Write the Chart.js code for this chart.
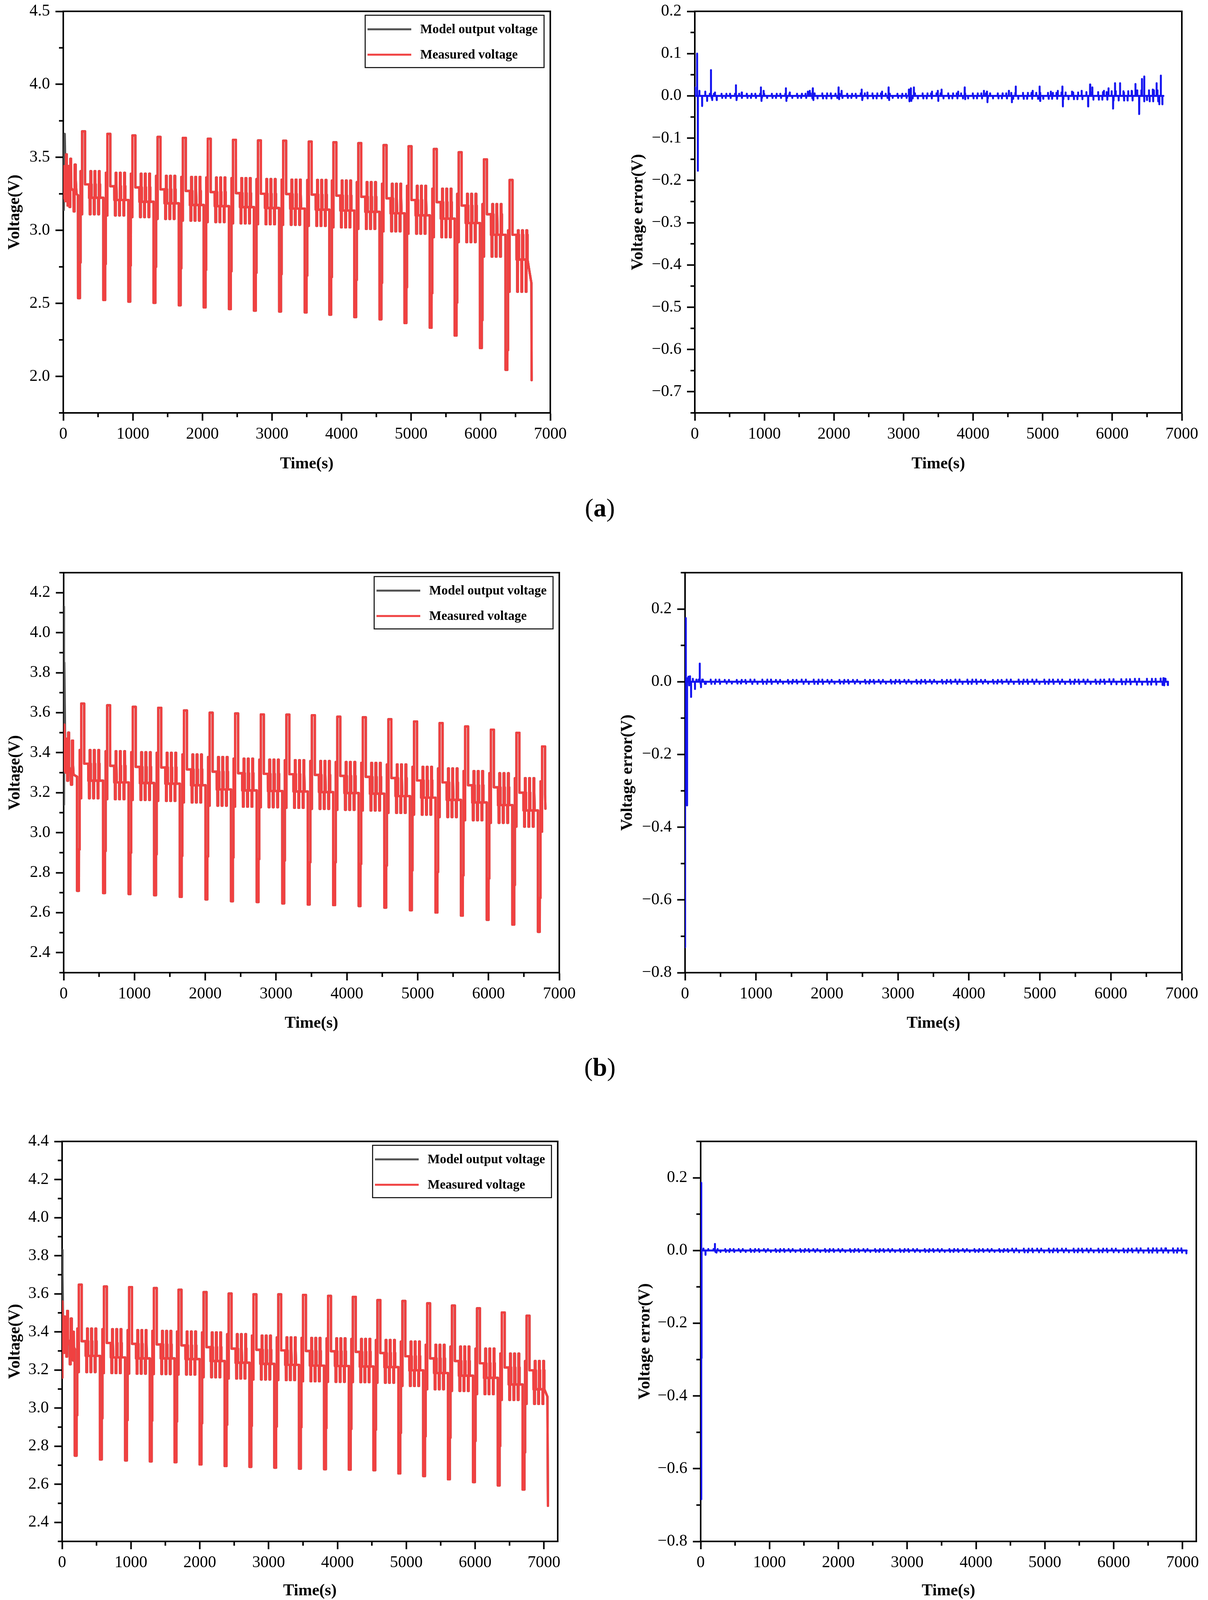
<!DOCTYPE html>
<html>
<head>
<meta charset="utf-8">
<script src="https://cdn.jsdelivr.net/npm/chart.js@4.4.0/dist/chart.umd.min.js"></script>
<style>
  body { margin: 0; background: #fff; width: 3093px; height: 4244px; position: relative; overflow: hidden; }
  canvas { position: absolute; }
  .tag { position: absolute; font-family: 'Liberation Serif', 'Times New Roman', serif; font-size: 66px; color: #000;
         transform: translate(-50%, -50%); white-space: nowrap; }
</style>
</head>
<body>
<div class="tag" style="left:1536px;top:1300px">(<b>a</b>)</div>
<div class="tag" style="left:1536px;top:2732px">(<b>b</b>)</div>
<div class="tag" style="left:1536px;top:4176px">(<b>c</b>)</div>
<script>
// ---------- axes ----------
const timeTicks = [0, 1000, 2000, 3000, 4000, 5000, 6000, 7000];
const timeMinor = [500, 1500, 2500, 3500, 4500, 5500, 6500];
const voltTicksA = [2.0, 2.5, 3.0, 3.5, 4.0, 4.5];
const voltMinorA = [1.75, 2.25, 2.75, 3.25, 3.75, 4.25];
const voltTicksB = [2.4, 2.6, 2.8, 3.0, 3.2, 3.4, 3.6, 3.8, 4.0, 4.2];
const voltMinorB = [2.3, 2.5, 2.7, 2.9, 3.1, 3.3, 3.5, 3.7, 3.9, 4.1, 4.3];
const voltTicksC = [2.4, 2.6, 2.8, 3.0, 3.2, 3.4, 3.6, 3.8, 4.0, 4.2, 4.4];
const voltMinorC = [2.3, 2.5, 2.7, 2.9, 3.1, 3.3, 3.5, 3.7, 3.9, 4.1, 4.3];
const errTicksA = [-0.7, -0.6, -0.5, -0.4, -0.3, -0.2, -0.1, 0.0, 0.1, 0.2];
const errMinorA = [-0.75, -0.65, -0.55, -0.45, -0.35, -0.25, -0.15, -0.05, 0.05, 0.15];
const errTicksBC = [-0.8, -0.6, -0.4, -0.2, 0.0, 0.2];
const errMinorBC = [-0.7, -0.5, -0.3, -0.1, 0.1, 0.3];

// ---------- pulse test protocol (seconds after each big discharge) ----------
const cycleSteps = [
  [1, 'dip'], [26, 'dip'], [27, 'mid'], [36, 'mid'], [37, 'hi'], [46, 'hi'], [47, 'lo'], [58, 'lo'],
  [59, 'peak'], [100, 'peak'], [101, 'plat'], [158, 'plat'], [159, 'base'],
  [168, 'base'], [169, 'lo'], [178, 'lo'], [179, 'hi'], [188, 'hi'], [189, 'plat'], [194, 'plat'], [195, 'base'],
  [228, 'base'], [229, 'lo'], [238, 'lo'], [239, 'hi'], [248, 'hi'], [249, 'plat'], [254, 'plat'], [255, 'base'],
  [290, 'base'], [291, 'lo'], [300, 'lo'], [301, 'hi'], [310, 'hi'], [311, 'plat'], [316, 'plat'], [317, 'base']
];
const errSteps = [[3, 1], [30, -1], [62, 1], [104, -1], [172, 1], [182, -1], [232, -1], [242, 1], [294, 1], [304, -1]];

// ---------- (a) ----------
const headA = [[0, 3.40], [6, 3.22], [14, 3.44], [26, 3.30], [28, 3.20], [38, 3.20], [40, 3.52], [50, 3.52],
  [52, 3.36], [58, 3.30], [62, 3.17], [72, 3.17], [74, 3.44], [80, 3.44], [82, 3.31], [88, 3.28], [90, 3.16],
  [100, 3.16], [102, 3.49], [112, 3.49], [114, 3.29], [146, 3.27], [150, 3.13], [162, 3.13], [164, 3.45],
  [176, 3.45], [178, 3.36], [190, 3.25], [211, 3.24]];
const modelHeadA = [[0, 3.40], [6, 3.14], [14, 3.44], [20, 3.66], [26, 3.50], [28, 3.20]];
const tailA = [[6700, 2.72], [6728, 2.64], [6732, 1.974]];
const startA = [212, 575, 935, 1297, 1660, 2018, 2381, 2740, 3102, 3470, 3824, 4182, 4545, 4904, 5267, 5625, 5988, 6356];
const dipA  = [2.536, 2.523, 2.512, 2.504, 2.487, 2.472, 2.461, 2.450, 2.444, 2.438, 2.423, 2.406, 2.391, 2.365, 2.333, 2.280, 2.194, 2.045];
const midA  = [2.78, 2.77, 2.76, 2.75, 2.74, 2.73, 2.72, 2.71, 2.70, 2.69, 2.68, 2.66, 2.64, 2.61, 2.57, 2.505, 2.385, 2.18];
const peakA = [3.678, 3.661, 3.650, 3.640, 3.633, 3.627, 3.620, 3.616, 3.614, 3.608, 3.603, 3.597, 3.584, 3.576, 3.557, 3.535, 3.486, 3.345];
const hiA   = [3.405, 3.394, 3.388, 3.373, 3.366, 3.362, 3.358, 3.351, 3.347, 3.345, 3.341, 3.330, 3.319, 3.305, 3.285, 3.25, 3.18, 3.00];
const loA   = [3.110, 3.102, 3.091, 3.078, 3.067, 3.057, 3.048, 3.042, 3.038, 3.031, 3.021, 3.010, 2.993, 2.977, 2.953, 2.92, 2.82, 2.58];
const platA = [3.315, 3.302, 3.294, 3.281, 3.270, 3.262, 3.255, 3.251, 3.249, 3.245, 3.238, 3.230, 3.219, 3.208, 3.193, 3.17, 3.11, 2.97];
const baseA = [3.223, 3.208, 3.196, 3.185, 3.174, 3.166, 3.159, 3.153, 3.149, 3.142, 3.136, 3.127, 3.117, 3.103, 3.08, 3.05, 2.97, 2.80];
const spikesA = [[2, 0.020], [33, 0.100], [44, -0.177], [66, 0.012], [105, -0.024], [150, 0.010], [177, -0.012],
  [232, 0.061], [250, -0.010], [290, 0.008], [315, -0.010], [591, 0.025], [600, -0.010], [674, 0.008], [950, 0.020],
  [958, -0.012], [989, 0.012], [1309, 0.018], [1316, -0.012], [1365, 0.008], [1624, 0.010], [1652, 0.012],
  [1696, 0.018], [1704, -0.010], [2066, 0.020], [2074, -0.008], [2110, 0.012], [2398, 0.015], [2406, -0.010],
  [2481, 0.008], [2691, 0.010], [2785, 0.020], [2793, -0.010], [3077, 0.015], [3085, -0.013], [3105, 0.018],
  [3112, -0.012], [3149, 0.020], [3409, 0.010], [3492, 0.012], [3499, -0.012], [3547, 0.015], [3785, 0.010],
  [3879, 0.020], [3886, -0.008], [4155, 0.012], [4199, 0.010], [4206, -0.015], [4514, 0.012], [4558, -0.015],
  [4613, 0.022], [4856, 0.012], [4956, 0.022], [4963, -0.012], [5117, 0.010], [5217, 0.012], [5283, 0.022],
  [5290, -0.025], [5421, 0.010], [5559, 0.012], [5653, -0.025], [5681, 0.027], [5714, 0.020], [5880, 0.012],
  [5946, 0.018], [6012, -0.030], [6040, 0.030], [6112, 0.030], [6167, 0.008], [6278, 0.012], [6333, 0.028],
  [6388, -0.043], [6427, 0.040], [6460, 0.046], [6499, -0.010], [6582, 0.015], [6637, 0.030], [6676, -0.020],
  [6698, 0.048], [6720, -0.020]];
const blipA = [0.005, 0.005, 0.005, 0.005, 0.006, 0.005, 0.006, 0.005, 0.006, 0.006, 0.006, 0.006, 0.007, 0.007, 0.008, 0.009, 0.011, 0.013];

// ---------- (b) ----------
const headB = [[0, 3.40], [4, 3.31], [10, 3.54], [20, 3.40], [26, 3.30], [36, 3.30], [38, 3.47], [48, 3.47],
  [50, 3.26], [62, 3.26], [64, 3.50], [74, 3.50], [76, 3.33], [100, 3.30], [104, 3.24], [116, 3.24], [118, 3.46],
  [130, 3.46], [132, 3.34], [140, 3.29], [188, 3.28]];
const modelHeadB = [[0, 4.13], [3, 3.14], [8, 3.85], [16, 3.60], [20, 3.40]];
const tailB = [[6804, 3.12]];
const startB = [189, 556, 917, 1277, 1640, 2003, 2363, 2726, 3087, 3447, 3806, 4166, 4528, 4890, 5251, 5611, 5975, 6336, 6698];
const dipB  = [2.709, 2.698, 2.693, 2.687, 2.679, 2.666, 2.657, 2.653, 2.646, 2.641, 2.638, 2.633, 2.625, 2.612, 2.601, 2.585, 2.564, 2.540, 2.504];
const midB  = [2.916, 2.908, 2.900, 2.892, 2.884, 2.881, 2.876, 2.868, 2.860, 2.852, 2.852, 2.844, 2.835, 2.811, 2.803, 2.787, 2.771, 2.738, 2.674];
const peakB = [3.645, 3.637, 3.629, 3.624, 3.611, 3.600, 3.596, 3.591, 3.590, 3.587, 3.580, 3.577, 3.567, 3.556, 3.548, 3.531, 3.515, 3.499, 3.431];
const hiB   = [3.413, 3.407, 3.402, 3.399, 3.391, 3.378, 3.370, 3.365, 3.362, 3.358, 3.353, 3.349, 3.341, 3.329, 3.321, 3.308, 3.297, 3.272, 3.256];
const loB   = [3.172, 3.167, 3.164, 3.159, 3.151, 3.135, 3.130, 3.127, 3.124, 3.119, 3.114, 3.111, 3.099, 3.090, 3.078, 3.062, 3.049, 3.030, 3.005];
const platB = [3.345, 3.334, 3.329, 3.326, 3.316, 3.305, 3.297, 3.294, 3.292, 3.289, 3.284, 3.279, 3.273, 3.261, 3.251, 3.237, 3.227, 3.200, 3.190];
const baseB = [3.260, 3.251, 3.248, 3.245, 3.237, 3.216, 3.211, 3.208, 3.206, 3.203, 3.198, 3.195, 3.183, 3.175, 3.164, 3.151, 3.138, 3.111, 3.100];
const spikesB = [[0, -0.73], [11, 0.175], [28, -0.34], [36, 0.010], [48, 0.014], [58, -0.010], [70, 0.015],
  [85, -0.042], [110, 0.008], [140, -0.020], [160, 0.006], [207, 0.050], [225, -0.015], [240, 0.006],
  [280, -0.006], [6740, 0.010], [6752, -0.010], [6770, 0.008]];
const blipB = [0.006, 0.005, 0.006, 0.005, 0.006, 0.005, 0.005, 0.005, 0.005, 0.005, 0.006, 0.005, 0.006, 0.006, 0.006, 0.006, 0.007, 0.008, 0.009];

// ---------- (c) ----------
const headC = [[0, 3.16], [4, 3.56], [14, 3.40], [22, 3.29], [32, 3.29], [34, 3.48], [44, 3.48], [46, 3.35],
  [60, 3.34], [62, 3.27], [72, 3.27], [74, 3.51], [84, 3.51], [86, 3.36], [110, 3.33], [112, 3.23], [124, 3.23],
  [126, 3.47], [138, 3.47], [140, 3.36], [150, 3.33], [160, 3.25], [162, 3.40], [170, 3.40], [172, 3.32], [183, 3.31]];
const modelHeadC = [[0, 3.83], [3, 3.16], [5, 3.70], [14, 3.45], [22, 3.29]];
const tailC = [[7050, 3.06], [7058, 2.487]];
const startC = [184, 549, 915, 1274, 1633, 1997, 2361, 2721, 3082, 3441, 3805, 4165, 4522, 4885, 5245, 5605, 5969, 6329, 6689];
const dipC  = [2.750, 2.730, 2.725, 2.720, 2.716, 2.704, 2.696, 2.691, 2.687, 2.682, 2.679, 2.677, 2.674, 2.657, 2.643, 2.626, 2.611, 2.594, 2.572];
const midC  = [2.963, 2.946, 2.937, 2.934, 2.929, 2.920, 2.912, 2.907, 2.903, 2.900, 2.895, 2.890, 2.886, 2.869, 2.852, 2.844, 2.827, 2.801, 2.767];
const peakC = [3.648, 3.638, 3.635, 3.630, 3.621, 3.609, 3.601, 3.597, 3.597, 3.594, 3.589, 3.584, 3.567, 3.562, 3.550, 3.538, 3.524, 3.502, 3.485];
const hiC   = [3.417, 3.414, 3.409, 3.405, 3.402, 3.397, 3.388, 3.380, 3.371, 3.368, 3.366, 3.363, 3.357, 3.349, 3.332, 3.323, 3.312, 3.286, 3.247];
const loC   = [3.189, 3.184, 3.181, 3.179, 3.176, 3.162, 3.155, 3.150, 3.147, 3.141, 3.138, 3.136, 3.133, 3.116, 3.099, 3.090, 3.073, 3.043, 3.022];
const platC = [3.351, 3.342, 3.337, 3.334, 3.329, 3.320, 3.312, 3.306, 3.303, 3.300, 3.298, 3.295, 3.289, 3.272, 3.261, 3.247, 3.235, 3.213, 3.198];
const baseC = [3.274, 3.266, 3.261, 3.261, 3.257, 3.247, 3.238, 3.232, 3.227, 3.223, 3.221, 3.218, 3.215, 3.198, 3.184, 3.170, 3.159, 3.124, 3.099];
const spikesC = [[6, 0.186], [9, -0.684], [12, -0.296], [40, 0.005], [70, -0.012], [110, 0.004], [207, 0.018],
  [230, -0.006], [6760, 0.006], [7056, -0.008]];
const blipC = [0.004, 0.004, 0.004, 0.004, 0.004, 0.004, 0.004, 0.004, 0.004, 0.004, 0.004, 0.004, 0.005, 0.005, 0.005, 0.005, 0.005, 0.006, 0.006];

// ---------- series builders ----------
function buildVoltage(head, starts, lv, tail) {
  const pts = head.map(p => ({x: p[0], y: p[1]}));
  starts.forEach((s, k) => {
    const prev = k > 0 ? lv.base[k - 1] : head[head.length - 1][1];
    pts.push({x: s, y: prev});
    cycleSteps.forEach(st => pts.push({x: s + st[0], y: lv[st[1]][k]}));
  });
  const cut = tail[0][0];
  return pts.filter(p => p.x < cut).concat(tail.map(p => ({x: p[0], y: p[1]})));
}

function buildModel(head, measured) {
  const last = head[head.length - 1][0];
  return head.map(p => ({x: p[0], y: p[1]})).concat(measured.filter(p => p.x > last));
}

function buildError(spikes, starts, blips, endT) {
  const marks = spikes.slice();
  starts.forEach((s, k) => errSteps.forEach(e => marks.push([s + e[0], e[1] * blips[k]])));
  marks.sort((a, b) => a[0] - b[0]);
  const pts = [{x: 0, y: 0}];
  marks.filter(m => m[0] <= endT).forEach(m => {
    pts.push({x: m[0] - 1, y: 0}, {x: m[0], y: m[1]}, {x: m[0] + 1, y: 0});
  });
  pts.push({x: endT, y: 0});
  return pts;
}

const measA = buildVoltage(headA, startA, {dip: dipA, mid: midA, peak: peakA, hi: hiA, lo: loA, plat: platA, base: baseA}, tailA);
const measB = buildVoltage(headB, startB, {dip: dipB, mid: midB, peak: peakB, hi: hiB, lo: loB, plat: platB, base: baseB}, tailB);
const measC = buildVoltage(headC, startC, {dip: dipC, mid: midC, peak: peakC, hi: hiC, lo: loC, plat: platC, base: baseC}, tailC);
const modelA = buildModel(modelHeadA, measA);
const modelB = buildModel(modelHeadB, measB);
const modelC = buildModel(modelHeadC, measC);
const errA = buildError(spikesA, startA, blipA, 6735);
const errB = buildError(spikesB, startB, blipB, 6806);
const errC = buildError(spikesC, startC, blipC, 7060);

// ---------- plugins ----------
// frame + minor ticks, drawn under the data like the original figure
const frameAndMinor = {
  id: 'frameAndMinor',
  beforeDatasetsDraw(chart, args, opts) {
    const {ctx, chartArea: {left, right, top, bottom}, scales: {x, y}} = chart;
    ctx.save();
    ctx.strokeStyle = '#000';
    ctx.lineWidth = 4;
    opts.x.forEach(v => {
      const px = x.getPixelForValue(v);
      ctx.beginPath(); ctx.moveTo(px, bottom); ctx.lineTo(px, bottom + 11); ctx.stroke();
    });
    opts.y.forEach(v => {
      const py = y.getPixelForValue(v);
      ctx.beginPath(); ctx.moveTo(left, py); ctx.lineTo(left - 11, py); ctx.stroke();
    });
    ctx.strokeRect(left, top, right - left, bottom - top);
    ctx.restore();
  }
};

const boxLegend = {
  id: 'boxLegend',
  afterDraw(chart, args, opts) {
    if (!opts.show) return;
    const {ctx, chartArea: {right, top}} = chart;
    const w = 458, h = 134;
    const bx = right - 16 - w, by = top + 10;
    ctx.save();
    ctx.fillStyle = '#fff';
    ctx.fillRect(bx, by, w, h);
    ctx.strokeStyle = '#000';
    ctx.lineWidth = 2.5;
    ctx.strokeRect(bx, by, w, h);
    ctx.font = "bold 33px 'Liberation Serif', 'Times New Roman', serif";
    ctx.textBaseline = 'middle';
    ctx.textAlign = 'left';
    const rows = [by + 36, by + 101];
    [0, 1].forEach(i => {
      const ds = chart.data.datasets[i];
      ctx.strokeStyle = ds.borderColor;
      ctx.lineWidth = 5;
      ctx.beginPath(); ctx.moveTo(bx + 6, rows[i]); ctx.lineTo(bx + 118, rows[i]); ctx.stroke();
      ctx.fillStyle = '#000';
      ctx.fillText(ds.label, bx + 141, rows[i] + 1);
    });
    ctx.restore();
  }
};

Chart.defaults.font.family = "'Liberation Serif', 'Times New Roman', serif";
Chart.defaults.color = '#000';

const fmt1 = v => (Math.abs(v) < 1e-9 ? 0 : v).toFixed(1).replace('-', '\u2212');

function makePanel(p) {
  const cLeft = p.canvasLeft;
  const cTop = p.plot.t - 40;
  const cRight = p.plot.r + 60;
  const cBottom = p.plot.b + 170;
  const cv = document.createElement('canvas');
  cv.width = cRight - cLeft;
  cv.height = cBottom - cTop;
  cv.style.left = cLeft + 'px';
  cv.style.top = cTop + 'px';
  cv.style.width = cv.width + 'px';
  cv.style.height = cv.height + 'px';
  document.body.appendChild(cv);

  const yWidth = p.plot.l - cLeft;
  const xHeight = cBottom - p.plot.b;
  const axisGrid = {display: true, drawOnChartArea: false, drawTicks: true, tickLength: 20, tickWidth: 4, tickColor: '#000'};

  new Chart(cv, {
    type: 'line',
    data: {datasets: p.datasets},
    options: {
      responsive: false,
      animation: false,
      devicePixelRatio: 1,
      parsing: false,
      events: [],
      layout: {padding: {left: 0, top: 40, right: 60, bottom: 0}},
      elements: {point: {radius: 0}, line: {tension: 0, borderJoinStyle: 'round', borderCapStyle: 'round'}},
      plugins: {
        legend: {display: false},
        tooltip: {enabled: false},
        boxLegend: {show: p.legend},
        frameAndMinor: {x: timeMinor, y: p.yMinor}
      },
      scales: {
        x: {
          type: 'linear', min: 0, max: p.xMax,
          afterBuildTicks: s => { s.ticks = timeTicks.map(v => ({value: v})); },
          afterFit: s => { s.height = xHeight; },
          ticks: {font: {size: 42}, color: '#000', padding: 10, autoSkip: false, maxRotation: 0, callback: v => String(v)},
          grid: axisGrid,
          border: {display: true, color: '#000', width: 4},
          title: {display: true, text: 'Time(s)', color: '#000', font: {size: 42, weight: 'bold'},
                  padding: {top: 0, bottom: xHeight - p.xTitle - 25}}
        },
        y: {
          type: 'linear', min: p.yMin, max: p.yMax,
          afterBuildTicks: s => { s.ticks = p.yTicks.map(v => ({value: v})); },
          afterFit: s => { s.width = yWidth; },
          ticks: {font: {size: 42}, color: '#000', padding: 14, autoSkip: false, callback: fmt1},
          grid: axisGrid,
          border: {display: true, color: '#000', width: 4},
          title: {display: true, text: p.yTitle, color: '#000', font: {size: 42, weight: 'bold'},
                  padding: {top: p.yTitleX - cLeft - 25, bottom: 0}}
        }
      }
    },
    plugins: [frameAndMinor, boxLegend]
  });
}

function voltageSets(model, meas) {
  return [
    {label: 'Model output voltage', data: model, borderColor: '#505050', borderWidth: 6, order: 1},
    {label: 'Measured voltage', data: meas, borderColor: '#F04141', borderWidth: 6, order: 0}
  ];
}
function errorSets(err) {
  return [{label: 'Voltage error', data: err, borderColor: '#1414F0', borderWidth: 5}];
}

makePanel({plot: {l: 162, t: 29, r: 1409, b: 1057}, canvasLeft: 0, yTitleX: 38, xTitle: 131, xMax: 7000,
  yMin: 1.75, yMax: 4.5, yTicks: voltTicksA, yMinor: voltMinorA, yTitle: 'Voltage(V)', legend: true,
  datasets: voltageSets(modelA, measA)});
makePanel({plot: {l: 1779, t: 29, r: 3026, b: 1057}, canvasLeft: 1540, yTitleX: 1634, xTitle: 131, xMax: 7000,
  yMin: -0.75, yMax: 0.2, yTicks: errTicksA, yMinor: errMinorA, yTitle: 'Voltage error(V)', legend: false,
  datasets: errorSets(errA)});
makePanel({plot: {l: 163, t: 1466, r: 1432, b: 2490}, canvasLeft: 0, yTitleX: 39, xTitle: 130, xMax: 7000,
  yMin: 2.3, yMax: 4.3, yTicks: voltTicksB, yMinor: voltMinorB, yTitle: 'Voltage(V)', legend: true,
  datasets: voltageSets(modelB, measB)});
makePanel({plot: {l: 1754, t: 1466, r: 3026, b: 2490}, canvasLeft: 1520, yTitleX: 1607, xTitle: 130, xMax: 7000,
  yMin: -0.8, yMax: 0.3, yTicks: errTicksBC, yMinor: errMinorBC, yTitle: 'Voltage error(V)', legend: false,
  datasets: errorSets(errB)});
makePanel({plot: {l: 159, t: 2922, r: 1428, b: 3946}, canvasLeft: 0, yTitleX: 39, xTitle: 127, xMax: 7200,
  yMin: 2.3, yMax: 4.4, yTicks: voltTicksC, yMinor: voltMinorC, yTitle: 'Voltage(V)', legend: true,
  datasets: voltageSets(modelC, measC)});
makePanel({plot: {l: 1794, t: 2922, r: 3063, b: 3946}, canvasLeft: 1550, yTitleX: 1652, xTitle: 127, xMax: 7200,
  yMin: -0.8, yMax: 0.3, yTicks: errTicksBC, yMinor: errMinorBC, yTitle: 'Voltage error(V)', legend: false,
  datasets: errorSets(errC)});
</script>
</body>
</html>
